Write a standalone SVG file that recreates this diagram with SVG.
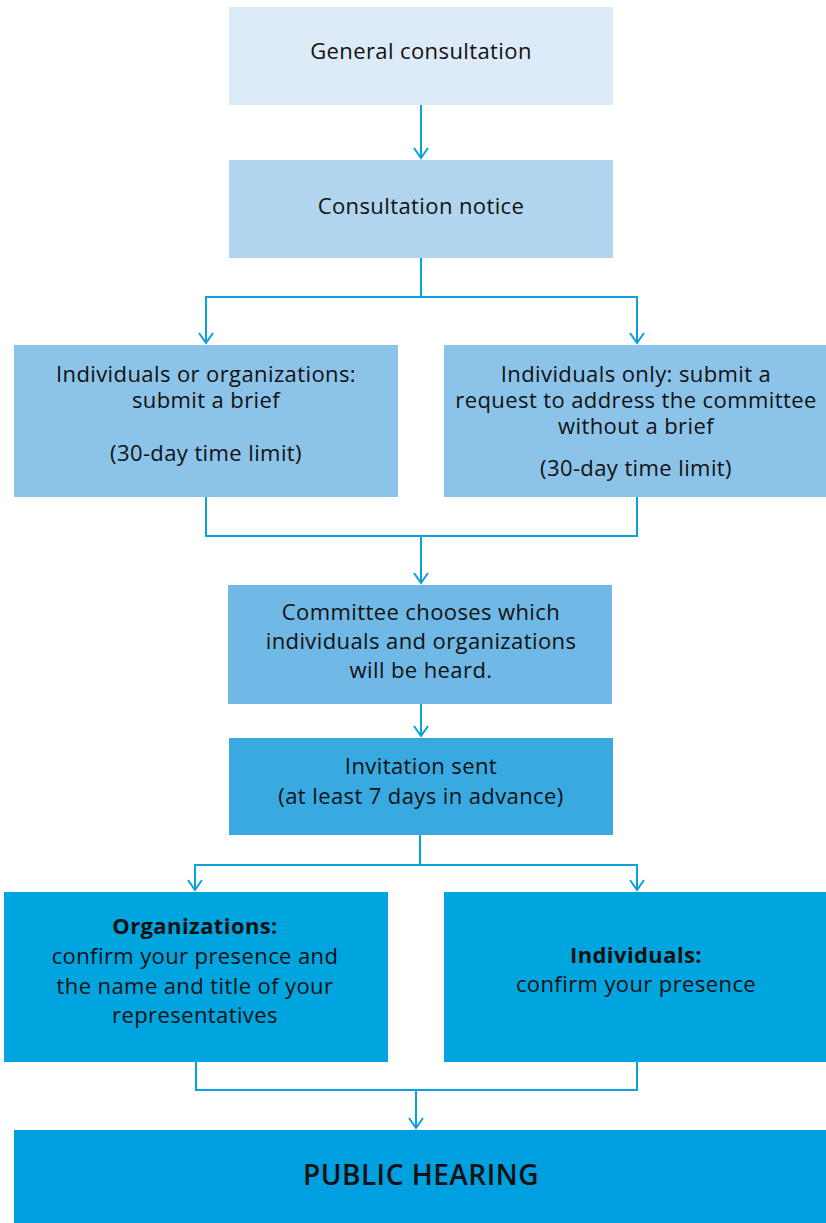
<svg xmlns="http://www.w3.org/2000/svg" width="826" height="1223" viewBox="0 0 826 1223">
<style>
.t{font-family:"Open Sans","Noto Sans","Liberation Sans",sans-serif;font-size:22px;letter-spacing:0.4px;fill:#111;text-anchor:middle}
.b{font-weight:bold}
.h{font-size:28px;font-weight:600;letter-spacing:0.5px}
.c{fill:none;stroke:#0aa1dd;stroke-width:2}
</style>
<defs>
<marker id="ah" viewBox="-12 -8 14 16" refX="0" refY="0" markerWidth="14" markerHeight="16" markerUnits="userSpaceOnUse" orient="auto">
<path d="M-10,-7 L0,0 L-10,7" fill="none" stroke="#0aa1dd" stroke-width="2"/>
</marker>
</defs>
<rect width="826" height="1223" fill="#fff"/>
<g id="connectors">
<path class="c" d="M421,105 V158" marker-end="url(#ah)"/>
<path class="c" d="M421,258 V297 H206 V343" marker-end="url(#ah)"/>
<path class="c" d="M421,297 H637 V343" marker-end="url(#ah)"/>
<path class="c" d="M206,497 V536 H637 V497"/>
<path class="c" d="M421,536 V583" marker-end="url(#ah)"/>
<path class="c" d="M421,704 V736" marker-end="url(#ah)"/>
<path class="c" d="M420,835 V865 H195 V890" marker-end="url(#ah)"/>
<path class="c" d="M420,865 H637 V890" marker-end="url(#ah)"/>
<path class="c" d="M196,1062 V1090 H637 V1062"/>
<path class="c" d="M416,1090 V1128" marker-end="url(#ah)"/>
</g>
<g id="n1"><rect x="229" y="7" width="384" height="98" fill="#ddeaf7"/><text class="t" x="421" y="59">General consultation</text></g>
<g id="n2"><rect x="229" y="160" width="384" height="98" fill="#b1d4ef"/><text class="t" x="421" y="214">Consultation notice</text></g>
<g id="n3"><rect x="14" y="345" width="384" height="152" fill="#8cc3e9"/>
<text class="t" x="206" y="382">Individuals or organizations:</text>
<text class="t" x="206" y="408">submit a brief</text>
<text class="t" x="206" y="461">(30-day time limit)</text></g>
<g id="n4"><rect x="444" y="345" width="382" height="152" fill="#8cc3e9"/>
<text class="t" x="636" y="382">Individuals only: submit a</text>
<text class="t" x="636" y="408">request to address the committee</text>
<text class="t" x="636" y="434">without a brief</text>
<text class="t" x="636" y="476">(30-day time limit)</text></g>
<g id="n5"><rect x="228" y="585" width="384" height="119" fill="#70b8e5"/>
<text class="t" x="421" y="620">Committee chooses which</text>
<text class="t" x="421" y="649">individuals and organizations</text>
<text class="t" x="421" y="678">will be heard.</text></g>
<g id="n6"><rect x="229" y="738" width="384" height="97" fill="#38aae1"/>
<text class="t" x="421" y="774">Invitation sent</text>
<text class="t" x="421" y="804">(at least 7 days in advance)</text></g>
<g id="n7"><rect x="4" y="892" width="384" height="170" fill="#00a5df"/>
<text class="t b" x="195" y="934">Organizations:</text>
<text class="t" x="195" y="964">confirm your presence and</text>
<text class="t" x="195" y="994">the name and title of your</text>
<text class="t" x="195" y="1023">representatives</text></g>
<g id="n8"><rect x="444" y="892" width="382" height="170" fill="#00a5df"/>
<text class="t b" x="636" y="963">Individuals:</text>
<text class="t" x="636" y="992">confirm your presence</text></g>
<g id="n9"><rect x="14" y="1130" width="812" height="93" fill="#009fdf"/>
<text class="t h" x="421" y="1185">PUBLIC HEARING</text></g>
</svg>
